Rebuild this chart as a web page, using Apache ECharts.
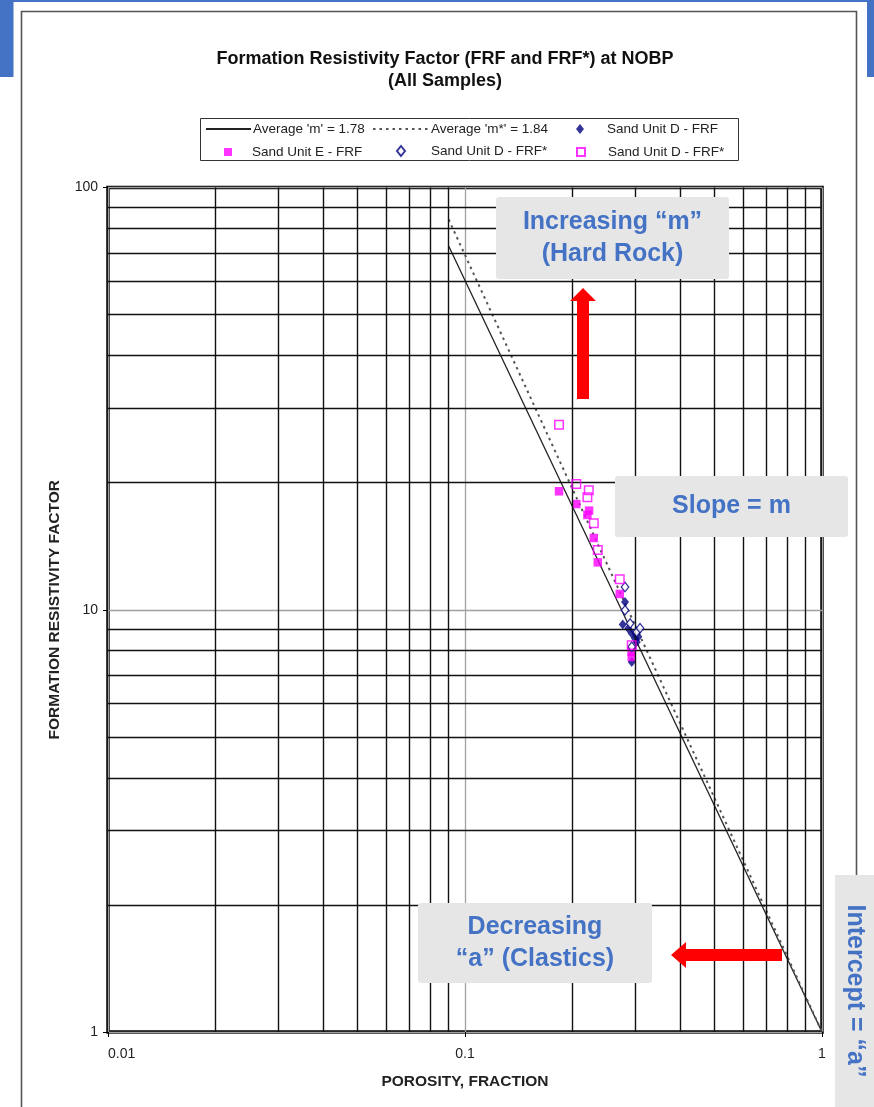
<!DOCTYPE html>
<html><head><meta charset="utf-8">
<script src="https://cdn.jsdelivr.net/npm/echarts@6/dist/echarts.min.js"></script>
<style>html,body{margin:0;padding:0;background:#fff}#c{width:874px;height:1107px}</style>
</head><body><div id="c"></div><script>
// ---------- data ----------
const titleText = "Formation Resistivity Factor (FRF and FRF*) at NOBP\n(All Samples)";
const xAxisTitle = "POROSITY, FRACTION";
const yAxisTitle = "FORMATION RESISTIVITY FACTOR";
const xRange = [0.01, 1];
const yRange = [1, 100];
const xMinorGrid = [0.02,0.03,0.04,0.05,0.06,0.07,0.08,0.09,0.2,0.3,0.4,0.5,0.6,0.7,0.8,0.9];
const yMinorGrid = [2,3,4,5,6,7,8,9,20,30,40,50,60,70,80,90];

// Fitted trend lines (porosity, FRF)
const trendPorosity = [0.09, 1];
const avgM = [72.7, 1];        // Average 'm' = 1.78
const avgMStar = [84.0, 1];    // Average 'm*' = 1.84

// Samples [porosity, FRF]
const sandD_FRF = [[0.2807,10.43],[0.2766,9.23],[0.2867,9.03],[0.2931,8.78],[0.2994,8.55],[0.3058,8.63],[0.3027,8.39],[0.2931,7.52]];
const sandE_FRF = [[0.1834,19.08],[0.2050,17.8],[0.2226,17.17],[0.2202,16.77],[0.2295,14.79],[0.2355,12.95],[0.2713,10.90],[0.2931,7.95],[0.2931,7.73]];
const sandD_FRFstarDiamond = [[0.2807,11.32],[0.2807,9.97],[0.2900,9.28],[0.3027,8.86],[0.3092,9.04],[0.2931,8.17]];
const sandD_FRFstarSquare = [[0.1834,27.44],[0.2050,19.86],[0.2222,19.18],[0.2202,18.47],[0.2295,16.02],[0.2355,13.85],[0.2713,11.81],[0.2931,8.24]];

const legendLabels = {
  avgM: "Average 'm' = 1.78",
  avgMStar: "Average 'm*' = 1.84",
  dFRF: "Sand Unit D - FRF",
  eFRF: "Sand Unit E - FRF",
  dStarDia: "Sand Unit D - FRF*",
  dStarSq: "Sand Unit D - FRF*"
};

// ---------- chart ----------
const FONT = "'Liberation Sans', Arial, sans-serif";
const BLUE = '#4472C4';
const PINK = '#ff00ff';
const NAVY = '#000080';
const BOXFILL = '#e6e6e6';

const chart = echarts.init(document.getElementById('c'), null, {renderer: 'canvas'});

function legendItem(name, left, top, w, h, padLeft, hideSymbol) {
  const l = {
    data: [name], left: left, top: top, itemWidth: w, itemHeight: h,
    formatter: n => legendLabels[n], selectedMode: false,
    textStyle: {fontFamily: FONT, fontSize: 13.5, color: '#222', padding: [0, 0, 0, padLeft]},
    padding: 0
  };
  if (hideSymbol) l.itemStyle = {color: 'rgba(0,0,0,0)', borderWidth: 0, opacity: 0};
  return l;
}

function box(x, y, w, h, text, fs, lh) {
  return {
    type: 'group', z: 100,
    children: [
      {type: 'rect', shape: {x: x, y: y, width: w, height: h, r: 3}, style: {fill: BOXFILL}, z: 100},
      {type: 'text', z: 101, style: {x: x + w / 2, y: y + h / 2, text: text, fill: BLUE,
        font: 'bold ' + fs + 'px ' + FONT, align: 'center', verticalAlign: 'middle', lineHeight: lh}}
    ]
  };
}

const option = {
  animation: false,
  backgroundColor: '#fff',
  title: {
    text: titleText, left: 440, top: 43, textAlign: 'center',
    textStyle: {fontFamily: FONT, fontSize: 18, fontWeight: 'bold', color: '#111', lineHeight: 22}
  },
  legend: [
    legendItem('avgM', 205, 122, 45, 10, -3, true),
    legendItem('avgMStar', 372, 122, 56, 10, -3, true),
    legendItem('dFRF', 576, 122, 8, 10, 18, false),
    legendItem('eFRF', 224, 145, 8, 8, 15, false),
    legendItem('dStarDia', 396, 144, 8, 10, 21, false),
    legendItem('dStarSq', 576, 145, 8, 8, 18, false)
  ],
  grid: {
    left: 108, right: 52, top: 187.5, bottom: 75,
    show: true, borderColor: '#000', borderWidth: 3.5, backgroundColor: 'transparent'
  },
  xAxis: {
    type: 'log', logBase: 10, min: xRange[0], max: xRange[1],
    name: xAxisTitle, nameLocation: 'middle', nameGap: 42,
    nameTextStyle: {fontFamily: FONT, fontSize: 15.5, fontWeight: 'bold', color: '#222'},
    axisLine: {show: false},
    axisTick: {show: true, length: 5, lineStyle: {color: '#000', width: 1}},
    axisLabel: {fontFamily: FONT, fontSize: 14, color: '#222', margin: 15,
      formatter: v => String(v), alignMinLabel: 'left'},
    splitLine: {show: true, lineStyle: {color: '#a0a0a0', width: 1.3}}
  },
  yAxis: {
    type: 'log', logBase: 10, min: yRange[0], max: yRange[1],
    name: yAxisTitle, nameLocation: 'middle', nameGap: 45,
    nameTextStyle: {fontFamily: FONT, fontSize: 15.5, fontWeight: 'bold', color: '#222'},
    axisLine: {show: false},
    axisTick: {show: true, length: 5, lineStyle: {color: '#000', width: 1}},
    axisLabel: {fontFamily: FONT, fontSize: 14, color: '#222', margin: 10, formatter: v => String(v)},
    splitLine: {show: true, lineStyle: {color: '#a0a0a0', width: 1.3}}
  },
  series: [
    {
      type: 'scatter', name: '_grid', data: [], silent: true, z: 1,
      markLine: {
        silent: true, symbol: ['none', 'none'], label: {show: false}, animation: false,
        lineStyle: {color: '#111', width: 1.4, type: 'solid'},
        emphasis: {disabled: true},
        data: xMinorGrid.map(v => ({xAxis: v})).concat(yMinorGrid.map(v => ({yAxis: v})))
      }
    },
    {
      type: 'line', name: 'avgM', data: trendPorosity.map((p, i) => [p, avgM[i]]),
      symbol: 'none', itemStyle: {color: '#222'}, lineStyle: {color: '#222', width: 1.3, type: 'solid'}, z: 3
    },
    {
      type: 'line', name: 'avgMStar', data: trendPorosity.map((p, i) => [p, avgMStar[i]]),
      symbol: 'none', itemStyle: {color: '#444'}, lineStyle: {color: '#555', width: 2, type: [2.5, 4]}, z: 3
    },
    {
      type: 'scatter', name: 'dFRF', data: sandD_FRF, symbol: 'diamond', symbolSize: [8, 10],
      itemStyle: {color: NAVY}, z: 4
    },
    {
      type: 'scatter', name: 'eFRF', data: sandE_FRF, symbol: 'rect', symbolSize: 8.5,
      itemStyle: {color: PINK}, z: 4
    },
    {
      type: 'scatter', name: 'dStarDia', data: sandD_FRFstarDiamond, symbol: 'diamond', symbolSize: [7.5, 9.5],
      itemStyle: {color: '#fff', borderColor: NAVY, borderWidth: 1.3}, z: 5
    },
    {
      type: 'scatter', name: 'dStarSq', data: sandD_FRFstarSquare, symbol: 'rect', symbolSize: 8.5,
      itemStyle: {color: 'rgba(255,255,255,0)', borderColor: PINK, borderWidth: 1.5}, z: 5
    }
  ],
  graphic: [
    // blue page frame
    {type: 'rect', shape: {x: 0, y: 0, width: 874, height: 2}, style: {fill: BLUE}, z: 90},
    {type: 'rect', shape: {x: 0, y: 0, width: 13.5, height: 77}, style: {fill: BLUE}, z: 90},
    {type: 'rect', shape: {x: 867, y: 0, width: 7, height: 77}, style: {fill: BLUE}, z: 90},
    // card border
    {type: 'polyline', shape: {points: [[21.5, 1107], [21.5, 11.5], [856.5, 11.5], [856.5, 1107]]},
      style: {stroke: '#555', lineWidth: 1.6, fill: null}, z: 90},
    // legend box
    {type: 'rect', shape: {x: 200.5, y: 118.5, width: 538, height: 42}, style: {stroke: '#333', lineWidth: 1, fill: null}, z: 90},
    // annotation boxes
    box(496, 197, 233, 82, 'Increasing \u201cm\u201d\n(Hard Rock)', 25, 32),
    box(615, 476, 233, 61, 'Slope = m', 25, 30),
    box(418, 903, 234, 80, 'Decreasing\n\u201ca\u201d (Clastics)', 25, 32),
    {
      type: 'group', z: 100,
      children: [
        {type: 'rect', shape: {x: 835, y: 875, width: 39, height: 232}, style: {fill: BOXFILL}, z: 100},
        {type: 'text', z: 101, x: 855, y: 991, rotation: -Math.PI / 2,
          style: {x: 0, y: 0, text: 'Intercept = \u201ca\u201d', fill: BLUE, font: 'bold 25px ' + FONT,
            align: 'center', verticalAlign: 'middle'}}
      ]
    },
    // red arrows
    {type: 'polygon', z: 100, shape: {points: [[577, 399], [589, 399], [589, 301], [596, 301], [583, 288], [570, 301], [577, 301]]},
      style: {fill: '#ff0000'}},
    {type: 'polygon', z: 100, shape: {points: [[782, 949], [782, 961], [686, 961], [686, 968], [671, 955], [686, 942], [686, 949]]},
      style: {fill: '#ff0000'}}
  ]
};
chart.setOption(option);
</script></body></html>
